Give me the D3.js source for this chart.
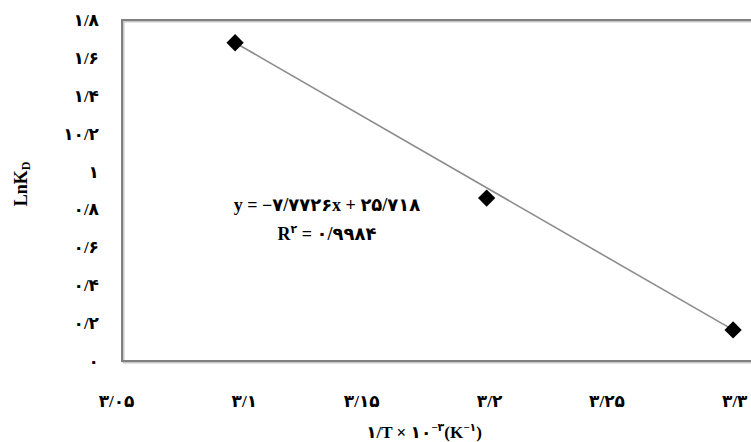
<!DOCTYPE html>
<html lang="fa">
<head>
    <meta charset="utf-8">
    <style>
        body { margin: 0; background: #fff; }
        svg { display: block; }
        text { font-family: "Liberation Serif", "DejaVu Sans", serif; font-weight: bold; fill: #000; }
    </style>
</head>
<body>
    <svg width="751" height="442"></svg>
    <script src="https://cdn.jsdelivr.net/npm/d3@7/dist/d3.min.js"></script>
    <script>
        // Data (x = 1/T x 10^-3, y = ln KD)
        const xValues = [3.0949, 3.1975, 3.2980];
        const yValues = [1.680, 0.860, 0.164];

        const xTicks = [3.05, 3.1, 3.15, 3.2, 3.25, 3.3];
        const xTickLabels = ["۳/۰۵", "۳/۱", "۳/۱۵", "۳/۲", "۳/۲۵", "۳/۳"];
        const yTicks = [0, 0.2, 0.4, 0.6, 0.8, 1, 1.2, 1.4, 1.6, 1.8];
        const yTickLabels = ["۰", "۰/۲", "۰/۴", "۰/۶", "۰/۸", "۱", "۱۰/۲", "۱/۴", "۱/۶", "۱/۸"];

        const equationText = "y = −۷/۷۷۲۶x + ۲۵/۷۱۸";
        const r2Text = "۰/۹۹۸۴";

        const svg = d3.select("svg");
        const points = xValues.map((x, i) => ({ x: x, y: yValues[i] }));

        const xScale = d3.scaleLinear().domain([3.05, 3.3]).range([125, 738]);
        const yScale = d3.scaleLinear().domain([0, 1.8]).range([361, 20]);

        const plotLeft = xScale(3.05) - 3, plotTop = yScale(1.8), plotBottom = yScale(0);

        // Plot frame (right edge is cut off by the picture)
        const frame = svg.append("g");
        frame.append("path")
            .attr("d", `M760,${plotTop + 1.5}H${plotLeft + 1.5}V${plotBottom + 1.5}H760`)
            .attr("fill", "none").attr("stroke", "#c8c8c8").attr("stroke-width", 2);
        frame.append("path")
            .attr("d", `M760,${plotTop}H${plotLeft}V${plotBottom}H760`)
            .attr("fill", "none").attr("stroke", "#808080").attr("stroke-width", 2);

        // Axes
        const xAxis = svg.append("g")
            .attr("transform", `translate(0, ${plotBottom})`)
            .call(d3.axisBottom(xScale).tickValues(xTicks).tickSize(0).tickPadding(34)
                .tickFormat((d, i) => xTickLabels[i]));
        xAxis.selectAll("text").attr("text-anchor", "end").attr("dx", 9);
        const yAxis = svg.append("g")
            .attr("transform", `translate(${plotLeft}, 0)`)
            .call(d3.axisLeft(yScale).tickValues(yTicks).tickSize(0).tickPadding(23)
                .tickFormat((d, i) => yTickLabels[i]));
        [xAxis, yAxis].forEach(a => {
            a.select(".domain").remove();
            a.selectAll("text")
                .style("font-family", "'Liberation Serif', 'DejaVu Sans', serif")
                .style("font-weight", "bold")
                .style("font-size", "17px");
        });

        // Trendline
        const line = d3.line().x(d => xScale(d.x)).y(d => yScale(d.y));
        svg.append("path")
            .datum([points[0], points[points.length - 1]])
            .attr("d", line)
            .attr("fill", "none")
            .attr("stroke", "#8c8c8c")
            .attr("stroke-width", 1.6);

        // Diamond markers
        svg.append("g").selectAll("path")
            .data(points)
            .join("path")
            .attr("d", d3.symbol(d3.symbolSquare, 150))
            .attr("transform", d => `translate(${xScale(d.x)}, ${yScale(d.y)}) rotate(45)`)
            .attr("fill", "#000");

        // Equation and R^2
        svg.append("text")
            .attr("x", 327).attr("y", 211)
            .attr("text-anchor", "middle")
            .style("font-size", "18px")
            .text(equationText);
        const r2 = svg.append("text")
            .attr("x", 327).attr("y", 240)
            .attr("text-anchor", "middle")
            .style("font-size", "18px");
        r2.append("tspan").text("R");
        r2.append("tspan").attr("dy", -7).style("font-size", "11px").text("۲");
        r2.append("tspan").attr("dy", 7).text(" = " + r2Text);

        // Axis titles
        const xTitle = svg.append("text")
            .attr("x", 424).attr("y", 438)
            .attr("text-anchor", "middle")
            .style("font-size", "17px");
        xTitle.append("tspan").text("۱/T × ۱۰");
        xTitle.append("tspan").attr("dy", -7).style("font-size", "11px").text("−۳");
        xTitle.append("tspan").attr("dy", 7).text("(K");
        xTitle.append("tspan").attr("dy", -7).style("font-size", "11px").text("−۱");
        xTitle.append("tspan").attr("dy", 7).text(")");

        const yTitle = svg.append("text")
            .attr("transform", "translate(27, 184) rotate(-90)")
            .attr("text-anchor", "middle")
            .style("font-size", "18px");
        yTitle.append("tspan").text("LnK");
        yTitle.append("tspan").attr("dy", 3).style("font-size", "12px").text("D");
    </script>
</body>
</html>
